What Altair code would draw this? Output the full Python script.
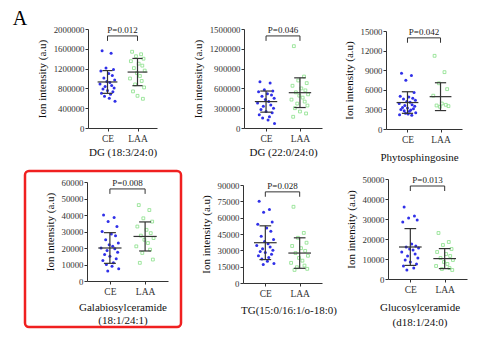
import altair as alt
import pandas as pd

W, H = 500, 354
FONT = "Liberation Serif"

# ---------------- data ----------------
groups = ["CE", "LAA"]
titles = [
    ["DG (18:3/24:0)"],
    ["DG (22:0/24:0)"],
    ["Phytosphingosine"],
    ["Galabiosylceramide", "(18:1/24:1)"],
    ["TG(15:0/16:1/o-18:0)"],
    ["Glucosylceramide", "(d18:1/24:0)"],
]
p_labels = ["P=0.012", "P=0.046", "P=0.042", "P=0.008", "P=0.028", "P=0.013"]
y_max = [2000000, 1500000, 15000, 60000, 90000, 50000]
y_step = [400000, 300000, 3000, 10000, 15000, 10000]

p1_ce = [1560000, 1510000, 1210000, 1180000, 1150000, 1100000, 1060000, 1010000, 970000,
         940000, 920000, 890000, 860000, 840000, 810000, 790000, 760000, 730000, 700000,
         680000, 640000, 600000, 540000]
p1_laa = [1540000, 1490000, 1450000, 1400000, 1350000, 1300000, 1260000, 1210000, 1160000,
          1110000, 1050000, 1000000, 950000, 880000, 820000, 740000, 650000, 590000]
p2_ce = [700000, 680000, 580000, 560000, 550000, 520000, 500000, 480000, 450000, 430000,
         400000, 380000, 350000, 330000, 300000, 280000, 250000, 230000, 200000, 170000,
         150000, 120000, 70000]
p2_laa = [1240000, 780000, 720000, 680000, 640000, 600000, 570000, 540000, 510000, 490000,
          460000, 430000, 400000, 370000, 340000, 300000, 250000, 220000, 170000]
p3_ce = [8550, 8200, 7450, 5600, 5000, 4900, 4700, 4600, 4400, 4200, 4100, 3900, 3700, 3600,
         3500, 3300, 3200, 3100, 3000, 2900, 2800, 2700, 2500, 2400, 2300, 2200, 2100]
p3_laa = [11200, 8700, 7000, 6100, 5100, 3900, 3700, 3600, 3500, 3400]
p4_ce = [40000, 38500, 36000, 33000, 30000, 28500, 27500, 25000, 23000, 22000, 21000, 20000,
         19500, 18500, 17500, 16000, 15000, 13500, 12500, 11000, 10000, 9000, 7500, 6000]
p4_laa = [46000, 43000, 38000, 36000, 33000, 31000, 29000, 27500, 26000, 25000, 23000, 21000,
          19000, 17000, 13000, 11000]
p5_ce = [75000, 67500, 65000, 56000, 54000, 50500, 47500, 43000, 40000, 38000, 36000, 34500,
         33000, 31500, 30000, 29000, 28000, 26500, 25000, 23500, 22000, 20000, 18000, 17000]
p5_laa = [70000, 46000, 41500, 37000, 34000, 32000, 29500, 27500, 25000, 23000, 20500, 18500,
          16000, 14500, 13000, 12000]
p6_ce = [36000, 31500, 30500, 29500, 28500, 17500, 16500, 16000, 15500, 15000, 14500, 13500,
         12500, 11500, 10500, 9500, 8500, 7500, 6500, 5500, 4500]
p6_laa = [23000, 18500, 17000, 15000, 13500, 12500, 11500, 10500, 9500, 8500, 7500, 6500,
          5500, 5000, 4500]

ce_values = [p1_ce, p2_ce, p3_ce, p4_ce, p5_ce, p6_ce]
laa_values = [p1_laa, p2_laa, p3_laa, p4_laa, p5_laa, p6_laa]

# mean and SD as drawn
ce_mean = [930000, 400000, 4050, 20000, 37000, 16000]
ce_sd = [230000, 160000, 1650, 9300, 15500, 9200]
laa_mean = [1130000, 535000, 4950, 27000, 27500, 10200]
laa_sd = [275000, 225000, 2130, 8800, 14000, 5000]

# ---------------- layout / style ----------------
layout = [
    dict(x0=88, x1=157, y0=128, y1=29, tpad=4, lh=12, tdx=0),
    dict(x0=244, x1=322, y0=128, y1=29, tpad=4, lh=12, tdx=0),
    dict(x0=386, x1=462, y0=129, y1=31, tpad=8, lh=12, tdx=-5),
    dict(x0=87, x1=168, y0=281, y1=182, tpad=6, lh=12.5, tdx=-5),
    dict(x0=243, x1=322, y0=283, y1=185, tpad=7, lh=12, tdx=6),
    dict(x0=388, x1=467, y0=279, y1=179, tpad=8, lh=14.5, tdx=-8),
]
jitter = [-0.18, 0.12, -0.05, 0.2, -0.22, 0.04, 0.16, -0.12, 0.24, -0.02, 0.08, -0.25, 0.14,
          -0.08, 0.22, -0.15, 0.0, 0.18, -0.2, 0.1, -0.1, 0.06, 0.25, -0.06, 0.02, -0.24, 0.13]
BLUE = "#3030e8"
GREEN = "#88e088"
DARK = "#333333"


def panel_layers(i):
    g = layout[i]
    ymax = y_max[i]
    rows = []
    for gi, vals in enumerate([ce_values[i], laa_values[i]]):
        for k, v in enumerate(vals):
            rows.append({"x": gi + jitter[k % len(jitter)], "v": v, "grp": groups[gi]})
    pts = pd.DataFrame(rows)

    means = [ce_mean[i], laa_mean[i]]
    sds = [ce_sd[i], laa_sd[i]]
    eb = pd.DataFrame({
        "g": [0, 1],
        "mean": means,
        "lo": [m - s for m, s in zip(means, sds)],
        "hi": [m + s for m, s in zip(means, sds)],
    })
    eb["ml"] = eb["g"] - 0.33
    eb["mr"] = eb["g"] + 0.33
    eb["cl"] = eb["g"] - 0.17
    eb["cr"] = eb["g"] + 0.17

    top, bot, txt = 0.93 * ymax, 0.88 * ymax, 0.99 * ymax
    br = pd.DataFrame({"xa": [0, 0, 1], "xb": [1, 0, 1], "ya": [top, bot, bot], "yb": [top, top, top]})
    tx = pd.DataFrame({"x": [0.5], "y": [txt], "t": [p_labels[i]]})

    def xs():
        return alt.Scale(domain=[-0.65, 1.65], range=[g["x0"], g["x1"]], nice=False, zero=False)

    def ys():
        return alt.Scale(domain=[0, ymax], range=[g["y0"], g["y1"]], nice=False, zero=True)

    xaxis = alt.Axis(
        orient="bottom", offset=g["y0"] - H, values=[0, 1],
        labelExpr="datum.value == 0 ? 'CE' : 'LAA'",
        title=titles[i], titleFont=FONT, titleFontSize=11, titleFontWeight="normal",
        titleColor="#111", titlePadding=g["tpad"], titleLineHeight=g["lh"],
        titleX=(g["x0"] + g["x1"]) / 2 + g["tdx"],
        labelFont=FONT, labelFontSize=9.5, labelColor="#333", labelPadding=2,
        tickSize=3, tickColor=DARK, domainColor=DARK, grid=False,
    )
    yaxis = alt.Axis(
        orient="left", offset=-g["x0"],
        values=list(range(0, ymax + 1, y_step[i])), format="d",
        title="Ion intensity (a.u)", titleFont=FONT, titleFontSize=11,
        titleFontWeight="normal", titleColor="#111", titlePadding=6,
        labelFont=FONT, labelFontSize=8.8, labelColor="#333", labelPadding=1,
        tickSize=3, tickColor=DARK, domainColor=DARK, grid=False,
    )

    ce_pts = alt.Chart(pts).transform_filter(alt.datum.grp == "CE").mark_point(
        shape="circle", filled=True, size=9, color=BLUE, opacity=1
    ).encode(x=alt.X("x:Q", scale=xs(), axis=xaxis), y=alt.Y("v:Q", scale=ys(), axis=yaxis))
    laa_pts = alt.Chart(pts).transform_filter(alt.datum.grp == "LAA").mark_point(
        shape="square", filled=False, size=8, color=GREEN, strokeWidth=0.8, opacity=1
    ).encode(x=alt.X("x:Q", scale=xs(), axis=None), y=alt.Y("v:Q", scale=ys(), axis=None))

    base = alt.Chart(eb)
    vline = base.mark_rule(color=DARK, strokeWidth=1.2).encode(
        x=alt.X("g:Q", scale=xs(), axis=None), y=alt.Y("lo:Q", scale=ys(), axis=None), y2="hi:Q")
    mline = base.mark_rule(color=DARK, strokeWidth=1.2).encode(
        x=alt.X("ml:Q", scale=xs(), axis=None), x2="mr:Q", y=alt.Y("mean:Q", scale=ys(), axis=None))
    cap_hi = base.mark_rule(color=DARK, strokeWidth=1.2).encode(
        x=alt.X("cl:Q", scale=xs(), axis=None), x2="cr:Q", y=alt.Y("hi:Q", scale=ys(), axis=None))
    cap_lo = base.mark_rule(color=DARK, strokeWidth=1.2).encode(
        x=alt.X("cl:Q", scale=xs(), axis=None), x2="cr:Q", y=alt.Y("lo:Q", scale=ys(), axis=None))

    bracket = alt.Chart(br).mark_rule(color=DARK, strokeWidth=1).encode(
        x=alt.X("xa:Q", scale=xs(), axis=None), x2="xb:Q",
        y=alt.Y("ya:Q", scale=ys(), axis=None), y2="yb:Q")
    ptext = alt.Chart(tx).mark_text(font=FONT, fontSize=9, color="#222", baseline="middle").encode(
        x=alt.X("x:Q", scale=xs(), axis=None), y=alt.Y("y:Q", scale=ys(), axis=None), text="t:N")

    return [ce_pts, laa_pts, vline, mline, cap_hi, cap_lo, bracket, ptext]


layers = []
for i in range(6):
    layers.extend(panel_layers(i))

letter = alt.Chart(pd.DataFrame({"t": ["A"]})).mark_text(
    font=FONT, fontSize=20, color="#000", baseline="middle", align="center"
).encode(x=alt.value(20), y=alt.value(19), text="t:N")

frame = alt.Chart(pd.DataFrame({"k": [0]})).mark_rect(
    fill=None, stroke="#f02020", strokeWidth=2.5, cornerRadius=4
).encode(x=alt.value(25), x2=alt.value(181), y=alt.value(171), y2=alt.value(327))

chart = alt.layer(*layers, letter, frame).resolve_scale(
    x="independent", y="independent"
).resolve_axis(
    x="independent", y="independent"
).properties(
    width=W, height=H, autosize=alt.AutoSizeParams(type="none"), padding=0,
    background="white",
).configure_view(stroke=None)

chart.save("out.html", embed_options={"renderer": "svg", "actions": False})
